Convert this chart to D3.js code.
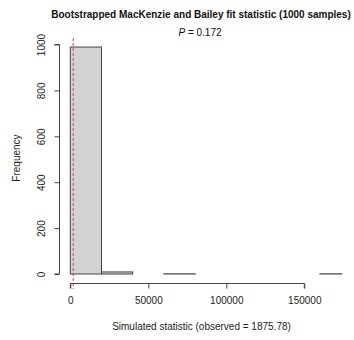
<!DOCTYPE html>
<html>
<head>
<meta charset="utf-8">
<script src="https://cdn.jsdelivr.net/npm/d3@7"></script>
<style>
  body { margin: 0; background: #fff; }
  svg { font-family: "Liberation Sans", Arial, sans-serif; }
</style>
</head>
<body>
<svg id="chart" width="354" height="340"></svg>
<script>
// histogram bins (bin edges) and counts
const breaks = [0, 20000, 40000, 60000, 80000, 100000, 120000, 140000, 160000, 180000];
const counts = [989, 9, 0, 1, 0, 0, 0, 0, 1];
const observed = 1875.78;
const pValue = 0.172;
const xTicks = [0, 50000, 100000, 150000];
const yTicks = [0, 200, 400, 600, 800, 1000];

const svg = d3.select('#chart');

const x = d3.scaleLinear().domain([0, 150000]).range([70.3, 304.3]);
const y = d3.scaleLinear().domain([0, 1000]).range([274, 44.5]);

const bins = counts.map((c, i) => ({ x0: breaks[i], x1: breaks[i + 1], n: c }));

// the original image is cut off on the right
svg.append('clipPath').attr('id', 'plotclip')
  .append('rect').attr('x', 0).attr('y', 0).attr('width', 342.3).attr('height', 340);

svg.append('g').attr('clip-path', 'url(#plotclip)')
  .selectAll('rect')
  .data(bins)
  .join('rect')
  .attr('x', (d) => x(d.x0))
  .attr('y', (d) => y(d.n))
  .attr('width', (d) => x(d.x1) - x(d.x0))
  .attr('height', (d) => y(0) - y(d.n))
  .attr('fill', '#d3d3d3')
  .attr('stroke', '#444')
  .attr('stroke-width', 1);

// observed value
svg.append('line')
  .attr('x1', x(observed)).attr('x2', x(observed))
  .attr('y1', 38).attr('y2', 289)
  .attr('stroke', '#e8383d')
  .attr('stroke-width', 1)
  .attr('stroke-dasharray', '3,2');

// x axis (R style: line below the plot)
const xAxis = svg.append('g').attr('transform', 'translate(0,283.5)')
  .call(d3.axisBottom(x).tickValues(xTicks).tickFormat(d3.format('d')).tickSize(5).tickPadding(8));
xAxis.select('.domain').attr('d', `M${x(0)},5V0H${x(150000)}V5`);

// y axis
const yAxis = svg.append('g').attr('transform', 'translate(59.5,0)')
  .call(d3.axisLeft(y).tickValues(yTicks).tickFormat(d3.format('d')).tickSize(5).tickPadding(0));
yAxis.select('.domain').attr('d', `M-5,${y(0)}H0V${y(1000)}H-5`);
yAxis.selectAll('.tick text')
  .attr('transform', 'rotate(-90)')
  .attr('x', 0).attr('y', -18)
  .attr('dy', '0.32em')
  .attr('text-anchor', 'middle');

svg.selectAll('.domain, .tick line').attr('stroke', '#444');
svg.selectAll('.tick text').attr('fill', '#222').style('font-size', '10px').style('font-family', 'Liberation Sans, Arial, sans-serif');

// titles
svg.append('text')
  .attr('x', 201).attr('y', 17.5)
  .attr('text-anchor', 'middle')
  .style('font-weight', 'bold').style('font-size', '10px')
  .attr('fill', '#111')
  .text('Bootstrapped MacKenzie and Bailey fit statistic (1000 samples)');

const pText = svg.append('text')
  .attr('x', 200).attr('y', 35.5)
  .attr('text-anchor', 'middle')
  .style('font-size', '10px')
  .attr('fill', '#111');
pText.append('tspan').style('font-style', 'italic').text('P');
pText.append('tspan').text(` = ${pValue}`);

svg.append('text')
  .attr('x', 201.5).attr('y', 330)
  .attr('text-anchor', 'middle')
  .style('font-size', '10px')
  .attr('fill', '#222')
  .text(`Simulated statistic (observed = ${observed})`);

svg.append('text')
  .attr('transform', 'translate(20,158) rotate(-90)')
  .attr('text-anchor', 'middle')
  .style('font-size', '10px')
  .attr('fill', '#222')
  .text('Frequency');
</script>
</body>
</html>
